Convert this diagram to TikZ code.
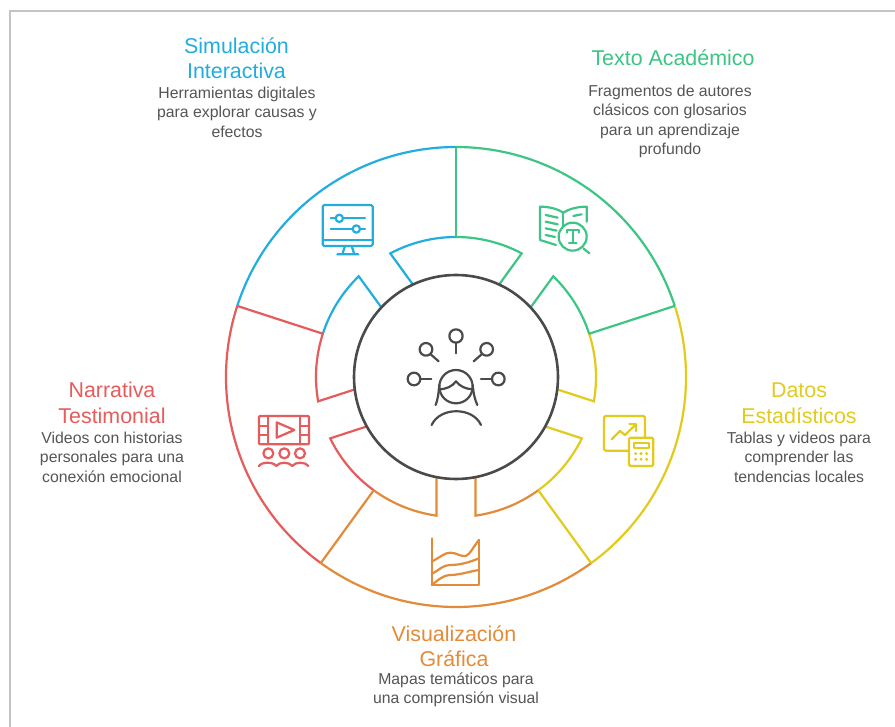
\documentclass[tikz,border=0pt]{standalone}
\usepackage{fontspec}
\setmainfont{Liberation Sans}
\definecolor{cblue}{HTML}{22ADDF}
\definecolor{cgreen}{HTML}{3CC585}
\definecolor{cyellow}{HTML}{E2CB1C}
\definecolor{corange}{HTML}{E38B38}
\definecolor{cred}{HTML}{E65B5B}
\definecolor{cdark}{HTML}{4A4A4A}
\definecolor{ctext}{HTML}{555555}
\definecolor{cframe}{HTML}{C4C4C4}
\tikzset{
  zoomed/.style 2 args={shift={(#1,#2)},x=0.3333pt,y=-0.3333pt},
  ring/.style={line width=2.2pt,line join=miter},
  ico/.style={line width=2.2pt,line cap=round,line join=round},
  ttl/.style={font=\fontsize{21.4}{25.5}\selectfont,align=center,inner sep=0pt},
  body/.style={font=\fontsize{15.8}{19.5}\selectfont,align=center,inner sep=0pt,text=ctext},
}
\begin{document}
\begin{tikzpicture}[x=1pt,y=-1pt]
\useasboundingbox[fill=white] (0,0) rectangle (895,727);
\draw[cframe,line width=2pt] (895,11.5) -- (9.5,11.5) -- (9.5,727);
% rings
\begin{scope}[shift={(456,377)},y=1pt]
  \foreach \a/\c in {162/cblue,90/cgreen,18/cyellow,-54/corange,-126/cred}{
    \pgfmathsetmacro{\e}{\a-72}
    \pgfmathsetmacro{\ia}{\a-28}
    \pgfmathsetmacro{\ib}{\a-25}
    \pgfmathsetmacro{\ic}{\a-47}
    \pgfmathsetmacro{\id}{\a-44}
    \draw[ring,\c] (\a:230) arc[start angle=\a,end angle=\e,radius=230];
    \draw[ring,\c] (\a:140) arc[start angle=\a,end angle=\ia,radius=140] -- (\ib:102);
    \draw[ring,\c] (\ic:102) -- (\id:140) arc[start angle=\id,end angle=\e,radius=140];
  }
  \foreach \a/\c in {90/cgreen,18/cgreen,-54/cyellow,-126/corange,162/cred}{
    \draw[ring,\c] (\a:140) -- (\a:230);
  }
  \draw[cdark,line width=2.6pt] (0,0) circle[radius=102];
\end{scope}
% centre figure
\begin{scope}[zoomed={390}{310},ico,cdark]
  \draw (198,230) circle[radius=50];
  \draw (146,238) .. controls (170,238) and (188,228) .. (198,214) .. controls (208,228) and (228,238) .. (250,238);
  \draw (148,225) .. controls (146,250) and (143,270) .. (137,285);
  \draw (248,225) .. controls (250,250) and (255,270) .. (262,285);
  \draw (125,345) .. controls (150,290) and (248,290) .. (273,345);
  \draw (198,78) circle[radius=20];  \draw (198,98) -- (198,130);
  \draw (108,118) circle[radius=19]; \draw (122,133) -- (146,154);
  \draw (290,118) circle[radius=19]; \draw (275,133) -- (251,154);
  \draw (72,207) circle[radius=19];  \draw (91,207) -- (124,207);
  \draw (325,207) circle[radius=19]; \draw (306,207) -- (273,207);
\end{scope}
% monitor
\begin{scope}[zoomed={310}{195},ico,cblue]
  \draw[rounded corners=1.5pt] (38,30) rectangle (188,153);
  \draw (38,135) -- (188,135);
  \draw (105,153) -- (97,178) (125,153) -- (133,178) (82,178) -- (145,178);
  \draw (62,70) -- (76,70) (100,70) -- (165,70) (62,102) -- (127,102) (151,102) -- (165,102);
  \draw (88,70) circle[radius=11];
  \draw (139,102) circle[radius=11];
\end{scope}
% book
\begin{scope}[zoomed={520}{190},ico,cgreen]
  \draw (108,165) -- (60,150) -- (60,50) .. controls (90,50) and (115,58) .. (130,68) .. controls (145,58) and (170,50) .. (200,50) -- (200,95);
  \draw (130,68) -- (130,110);
  \draw (77,75) -- (113,83) (77,95) -- (113,103) (77,115) -- (110,122) (77,135) -- (105,141) (160,78) -- (185,73);
  \draw (158,140) circle[radius=42];
  \draw (190,175) -- (208,190);
  \draw (140,128) -- (140,120) -- (178,120) -- (178,128) (158,120) -- (158,158) (147,158) -- (170,158);
\end{scope}
% stats
\begin{scope}[zoomed={590}{405},ico,cyellow]
  \draw[rounded corners=1.5pt] (165,95) -- (165,33) -- (42,33) -- (42,137) -- (115,137);
  \draw (65,103) -- (90,78) -- (105,90) -- (138,58);
  \draw (118,58) -- (138,58) -- (138,78);
  \draw[rounded corners=1.5pt] (117,98) rectangle (190,183);
  \draw (132,113) rectangle (176,130);
  \foreach \xx in {137,153,170}{\foreach \yy in {146,163}{\fill (\xx,\yy) circle[radius=5];}}
\end{scope}
% film
\begin{scope}[zoomed={245}{405},ico,cred]
  \draw[rounded corners=1pt] (42,33) rectangle (192,118);
  \draw (68,33) -- (68,118) (165,33) -- (165,118);
  \draw (42,62) -- (68,62) (42,90) -- (68,90) (165,62) -- (192,62) (165,90) -- (192,90);
  \draw (95,52) -- (95,98) -- (148,75) -- cycle;
  \foreach \xx in {70,118,165}{\draw (\xx,145) circle[radius=15];}
  \draw (42,183) .. controls (50,170) and (85,170) .. (94,183) .. controls (102,170) and (133,170) .. (142,183) .. controls (150,170) and (182,170) .. (190,183);
\end{scope}
% chart
\begin{scope}[zoomed={415}{530},ico,corange]
  \draw (50,25) -- (50,165) -- (192,165) -- (192,30);
  \draw (50,95) .. controls (75,82) and (90,68) .. (105,68) .. controls (125,68) and (135,80) .. (152,78) .. controls (165,74) and (175,50) .. (192,30);
  \draw (50,132) .. controls (75,118) and (85,105) .. (105,105) .. controls (135,105) and (160,98) .. (192,85);
  \draw (50,165) .. controls (70,150) and (85,135) .. (105,135) .. controls (135,135) and (160,125) .. (192,120);
\end{scope}
% texts
\node[ttl,text=cblue] (t1) at (236.5,58) {Simulación\\Interactiva};
\node[body] (b1) at (237,112) {Herramientas digitales\\para explorar causas y\\efectos};
\node[ttl,text=cgreen] (t2) at (673,58) {Texto Académico};
\node[body] (b2) at (670,121.5) {Fragmentos de autores\\clásicos con glosarios\\para un aprendizaje\\profundo};
\node[ttl,text=cyellow] (t3) at (799,403) {Datos\\Estadísticos};
\node[body] (b3) at (799,457) {Tablas y videos para\\comprender las\\tendencias locales};
\node[ttl,text=cred] (t4) at (112,403) {Narrativa\\Testimonial};
\node[body] (b4) at (112,457) {Videos con historias\\personales para una\\conexión emocional};
\node[ttl,text=corange] (t5) at (454,646) {Visualización\\Gráfica};
\node[body] (b5) at (456,690) {Mapas temáticos para\\una comprensión visual};
\end{tikzpicture}
\end{document}
